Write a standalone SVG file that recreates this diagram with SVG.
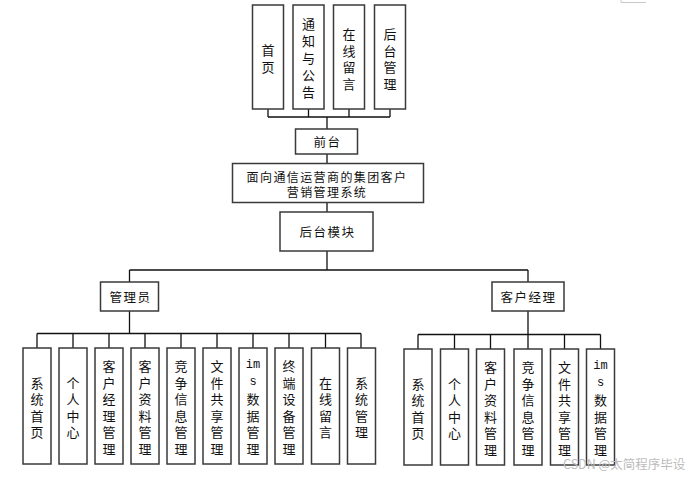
<svg xmlns="http://www.w3.org/2000/svg" width="694" height="477" viewBox="0 0 694 477">
<style>
.b{fill:#fff;stroke:#3a3a3a;stroke-width:1.5}
.s{fill:#d8d8d8}
.t{font-family:"Noto Sans CJK SC","Liberation Sans",sans-serif;font-size:13px;fill:#111;text-anchor:middle;dominant-baseline:central}
.h{font-family:"Noto Sans CJK SC","Liberation Sans",sans-serif;font-size:12.5px;fill:#111;text-anchor:middle;dominant-baseline:central;letter-spacing:1.5px}
.l{fill:none;stroke:#111;stroke-width:1.3}
</style>
<rect width="694" height="477" fill="#fff"/>
<path d="M621 0V2.5H646" fill="none" stroke="#c8c8c8" stroke-width="1"/>
<g id="connectors" class="l">
<path d="M268 109V117M308.5 109V117M349 109V117M390 109V117M268 117H390"/>
<path d="M327 117V129M327 154V163.5M327 202.5V212M327 251V270"/>
<path d="M129.5 270H528M129.5 270V282M528 270V282"/>
<path d="M129.5 311V333.5M37 333.5H361M37 333.5V348M73 333.5V348M109 333.5V348M145 333.5V348M181 333.5V348M217 333.5V348M253 333.5V348M289 333.5V348M325.5 333.5V348M361 333.5V348"/>
<path d="M528 311V334.5M418 334.5H600.5M418 334.5V349M454.5 334.5V349M490.5 334.5V349M528 334.5V349M564.5 334.5V349M600.5 334.5V349"/>
</g>
<g id="n-home"><rect class="b" x="252.5" y="5" width="31" height="104"/><text class="t" x="268"><tspan x="268" y="49">首</tspan><tspan x="268" y="65.5">页</tspan></text></g>
<g id="n-notice"><rect class="b" x="293" y="5" width="31" height="104"/><text class="t"><tspan x="308.5" y="23">通</tspan><tspan x="308.5" y="40">知</tspan><tspan x="308.5" y="57">与</tspan><tspan x="308.5" y="74">公</tspan><tspan x="308.5" y="91">告</tspan></text></g>
<g id="n-msg"><rect class="b" x="333.5" y="5" width="31" height="104"/><text class="t"><tspan x="349" y="33">在</tspan><tspan x="349" y="49.5">线</tspan><tspan x="349" y="66">留</tspan><tspan x="349" y="82.5">言</tspan></text></g>
<g id="n-backmgr"><rect class="b" x="374.5" y="5" width="31" height="104"/><text class="t"><tspan x="390" y="33">后</tspan><tspan x="390" y="49.5">台</tspan><tspan x="390" y="66">管</tspan><tspan x="390" y="82.5">理</tspan></text></g>
<g id="n-front"><rect class="b" x="295.5" y="129" width="62" height="25"/><text class="h" x="327.5" y="141.5">前台</text></g>
<g id="n-system"><rect class="b" x="232.5" y="163.5" width="191" height="39"/><text class="h" x="327" y="176" style="font-size:12px;letter-spacing:1.4px">面向通信运营商的集团客户</text><text class="h" x="327" y="191" style="font-size:12px;letter-spacing:1.4px">营销管理系统</text></g>
<g id="n-backend"><rect class="b" x="280" y="212" width="93" height="39"/><text class="h" x="327.5" y="231.5">后台模块</text></g>
<g id="n-admin"><rect class="b" x="100.5" y="282" width="58" height="29"/><text class="h" x="130.5" y="296.5">管理员</text></g>
<g id="n-manager"><rect class="b" x="492" y="282" width="72" height="29"/><text class="h" x="528.5" y="296.5">客户经理</text></g>
<g id="a1"><rect class="b" x="23" y="348" width="28" height="116"/><text class="t"><tspan x="37" y="381.5">系</tspan><tspan x="37" y="398">统</tspan><tspan x="37" y="414.5">首</tspan><tspan x="37" y="431">页</tspan></text></g>
<g id="a2"><rect class="b" x="59" y="348" width="28" height="116"/><text class="t"><tspan x="73" y="381.5">个</tspan><tspan x="73" y="398">人</tspan><tspan x="73" y="414.5">中</tspan><tspan x="73" y="431">心</tspan></text></g>
<g id="a3"><rect class="b" x="95" y="348" width="28" height="116"/><text class="t"><tspan x="109" y="365">客</tspan><tspan x="109" y="381.5">户</tspan><tspan x="109" y="398">经</tspan><tspan x="109" y="414.5">理</tspan><tspan x="109" y="431">管</tspan><tspan x="109" y="447.5">理</tspan></text></g>
<g id="a4"><rect class="b" x="131" y="348" width="28" height="116"/><text class="t"><tspan x="145" y="365">客</tspan><tspan x="145" y="381.5">户</tspan><tspan x="145" y="398">资</tspan><tspan x="145" y="414.5">料</tspan><tspan x="145" y="431">管</tspan><tspan x="145" y="447.5">理</tspan></text></g>
<g id="a5"><rect class="b" x="167" y="348" width="28" height="116"/><text class="t"><tspan x="181" y="365">竞</tspan><tspan x="181" y="381.5">争</tspan><tspan x="181" y="398">信</tspan><tspan x="181" y="414.5">息</tspan><tspan x="181" y="431">管</tspan><tspan x="181" y="447.5">理</tspan></text></g>
<g id="a6"><rect class="b" x="203" y="348" width="28" height="116"/><text class="t"><tspan x="217" y="365">文</tspan><tspan x="217" y="381.5">件</tspan><tspan x="217" y="398">共</tspan><tspan x="217" y="414.5">享</tspan><tspan x="217" y="431">管</tspan><tspan x="217" y="447.5">理</tspan></text></g>
<g id="a7"><rect class="b" x="239" y="348" width="28" height="116"/><text class="t"><tspan x="253" y="365" style="font-family:'Liberation Mono',monospace;font-size:12px">im</tspan><tspan x="253" y="381.5" style="font-family:'Liberation Mono',monospace;font-size:12px">s</tspan><tspan x="253" y="398">数</tspan><tspan x="253" y="414.5">据</tspan><tspan x="253" y="431">管</tspan><tspan x="253" y="447.5">理</tspan></text></g>
<g id="a8"><rect class="b" x="275" y="348" width="28" height="116"/><text class="t"><tspan x="289" y="365">终</tspan><tspan x="289" y="381.5">端</tspan><tspan x="289" y="398">设</tspan><tspan x="289" y="414.5">备</tspan><tspan x="289" y="431">管</tspan><tspan x="289" y="447.5">理</tspan></text></g>
<g id="a9"><rect class="b" x="311.5" y="348" width="28" height="116"/><text class="t"><tspan x="325.5" y="381.5">在</tspan><tspan x="325.5" y="398">线</tspan><tspan x="325.5" y="414.5">留</tspan><tspan x="325.5" y="431">言</tspan></text></g>
<g id="a10"><rect class="b" x="347.5" y="348" width="28" height="116"/><text class="t"><tspan x="361.5" y="381.5">系</tspan><tspan x="361.5" y="398">统</tspan><tspan x="361.5" y="414.5">管</tspan><tspan x="361.5" y="431">理</tspan></text></g>
<g id="m1"><rect class="b" x="404" y="349" width="28" height="116"/><text class="t"><tspan x="418" y="382.5">系</tspan><tspan x="418" y="399">统</tspan><tspan x="418" y="415.5">首</tspan><tspan x="418" y="432">页</tspan></text></g>
<g id="m2"><rect class="b" x="440.5" y="349" width="28" height="116"/><text class="t"><tspan x="454.5" y="382.5">个</tspan><tspan x="454.5" y="399">人</tspan><tspan x="454.5" y="415.5">中</tspan><tspan x="454.5" y="432">心</tspan></text></g>
<g id="m3"><rect class="b" x="476.5" y="349" width="28" height="116"/><text class="t"><tspan x="490.5" y="366">客</tspan><tspan x="490.5" y="382.5">户</tspan><tspan x="490.5" y="399">资</tspan><tspan x="490.5" y="415.5">料</tspan><tspan x="490.5" y="432">管</tspan><tspan x="490.5" y="448.5">理</tspan></text></g>
<g id="m4"><rect class="b" x="514" y="349" width="28" height="116"/><text class="t"><tspan x="528" y="366">竞</tspan><tspan x="528" y="382.5">争</tspan><tspan x="528" y="399">信</tspan><tspan x="528" y="415.5">息</tspan><tspan x="528" y="432">管</tspan><tspan x="528" y="448.5">理</tspan></text></g>
<g id="m5"><rect class="b" x="550.5" y="349" width="28" height="116"/><text class="t"><tspan x="564.5" y="366">文</tspan><tspan x="564.5" y="382.5">件</tspan><tspan x="564.5" y="399">共</tspan><tspan x="564.5" y="415.5">享</tspan><tspan x="564.5" y="432">管</tspan><tspan x="564.5" y="448.5">理</tspan></text></g>
<g id="m6"><rect class="b" x="586.5" y="349" width="28" height="116"/><text class="t"><tspan x="600.5" y="366" style="font-family:'Liberation Mono',monospace;font-size:12px">im</tspan><tspan x="600.5" y="382.5" style="font-family:'Liberation Mono',monospace;font-size:12px">s</tspan><tspan x="600.5" y="399">数</tspan><tspan x="600.5" y="415.5">据</tspan><tspan x="600.5" y="432">管</tspan><tspan x="600.5" y="448.5">理</tspan></text></g>
<text x="563" y="469" style="font-family:'Noto Sans CJK SC','Liberation Sans',sans-serif;font-size:12.5px;fill:#bcbcbc">CSDN @太简程序毕设</text>
</svg>
